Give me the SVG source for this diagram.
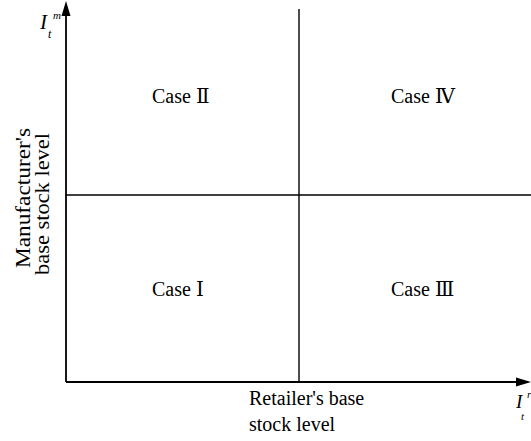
<svg xmlns="http://www.w3.org/2000/svg" width="531" height="441" viewBox="0 0 531 441">
<style>
.ax{stroke:#000;stroke-width:1.8;fill:none}
.ln{stroke:#000;stroke-width:1.4;fill:none}
.hd{fill:#000;stroke:none}
text{font-family:"Liberation Serif","DejaVu Serif","Noto Sans CJK SC",serif;fill:#000}
.lb{font-size:20px}
.vt{font-size:20px}
.it{font-style:italic}
</style>
<rect width="531" height="441" fill="#fff"/>
<g id="connectors">
<line class="ax" x1="66" y1="382" x2="66" y2="12"/>
<polygon class="hd" points="66,1 61.5,16 70.5,16"/>
<line class="ax" x1="66" y1="382" x2="520" y2="382"/>
<polygon class="hd" points="531,382 516,377.5 516,386.5"/>
<line class="ln" x1="299" y1="9" x2="299" y2="382"/>
<line class="ln" x1="66" y1="195" x2="531" y2="195"/>
</g>
<g id="axis-y-label">
<text class="it" x="40" y="29" font-size="21">I</text>
<text class="it" x="53" y="19" font-size="11">m</text>
<text class="it" x="48" y="38" font-size="12">t</text>
</g>
<g id="axis-x-label">
<text class="it" x="516" y="408" font-size="19">I</text>
<text class="it" x="527" y="398" font-size="11">r</text>
<text class="it" x="521" y="420" font-size="11">t</text>
</g>
<g id="case2"><text class="lb" x="152" y="103">Case Ⅱ</text></g>
<g id="case4"><text class="lb" x="391" y="103">Case Ⅳ</text></g>
<g id="case1"><text class="lb" x="152" y="296">Case Ⅰ</text></g>
<g id="case3"><text class="lb" x="391" y="296">Case Ⅲ</text></g>
<g id="y-title">
<text class="vt" text-anchor="middle" textLength="140" lengthAdjust="spacingAndGlyphs" transform="translate(30,198) rotate(-90)">Manufacturer's</text>
<text class="vt" text-anchor="middle" textLength="142" lengthAdjust="spacingAndGlyphs" transform="translate(49,204) rotate(-90)">base stock level</text>
</g>
<g id="x-title">
<text class="lb" x="249" y="405">Retailer's base</text>
<text class="lb" x="249" y="431">stock level</text>
</g>
</svg>
